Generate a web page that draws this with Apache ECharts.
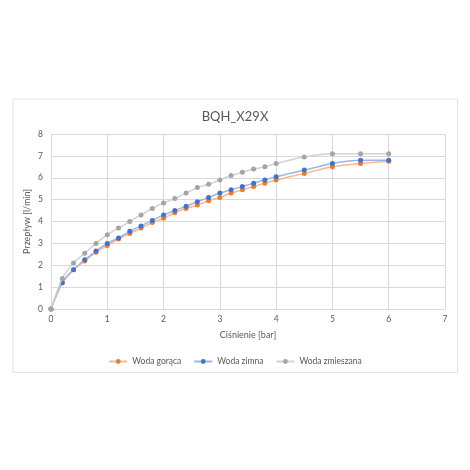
<!DOCTYPE html>
<html>
<head>
<meta charset="utf-8">
<script src="https://cdn.jsdelivr.net/npm/echarts@6/dist/echarts.min.js"></script>
<style>html,body{margin:0;padding:0;background:#fff;}#c{width:470px;height:470px;}</style>
</head>
<body>
<div id="c"></div>
<script>
const pressure = [0, 0.2, 0.4, 0.6, 0.8, 1.0, 1.2, 1.4, 1.6, 1.8, 2.0, 2.2, 2.4, 2.6, 2.8, 3.0, 3.2, 3.4, 3.6, 3.8, 4.0, 4.5, 5.0, 5.5, 6.0];
const hotWater = [0, 1.2, 1.8, 2.2, 2.6, 2.9, 3.2, 3.45, 3.7, 3.95, 4.15, 4.4, 4.6, 4.75, 4.95, 5.1, 5.3, 5.45, 5.6, 5.75, 5.9, 6.2, 6.5, 6.65, 6.75];
const coldWater = [0, 1.2, 1.8, 2.25, 2.65, 3.0, 3.25, 3.55, 3.8, 4.05, 4.3, 4.5, 4.7, 4.9, 5.1, 5.3, 5.45, 5.6, 5.75, 5.9, 6.05, 6.35, 6.65, 6.8, 6.8];
const mixedWater = [0, 1.4, 2.1, 2.55, 3.0, 3.4, 3.7, 4.0, 4.3, 4.6, 4.85, 5.05, 5.3, 5.55, 5.7, 5.9, 6.1, 6.25, 6.4, 6.5, 6.65, 6.95, 7.1, 7.1, 7.1];
const seriesNames = ['Woda gorąca', 'Woda zimna', 'Woda zmieszana'];
const title = 'BQH_X29X';
const xName = 'Ciśnienie [bar]';
const yName = 'Przepływ [l/min]';

const font = 'Lato, "Open Sans", sans-serif';
const markerColors = ['#ED7D31', '#4472C4', '#A5A5A5'];
const lineColors = ['#F6B88E', '#9DB5E3', '#D2D2D2'];
const values = [hotWater, coldWater, mixedWater];

const chart = echarts.init(document.getElementById('c'), null, {renderer: 'canvas'});
chart.setOption({
  animation: false,
  backgroundColor: '#fff',
  graphic: [{
    type: 'rect', left: 12.5, top: 98.5, z: -10,
    shape: {width: 444.5, height: 273.5},
    style: {fill: '#fff', stroke: '#E3E3E3', lineWidth: 1}
  }],
  title: {
    text: title, left: 'center', top: 105,
    textStyle: {fontFamily: font, fontSize: 13, fontWeight: 'normal', color: '#595959'}
  },
  legend: {
    bottom: 99, left: 'center',
    itemWidth: 18, itemHeight: 6, itemGap: 12,
    textStyle: {fontFamily: font, fontSize: 8.5, color: '#595959'},
    data: seriesNames
  },
  grid: {left: 51, right: 25, top: 134, bottom: 161},
  xAxis: {
    type: 'value', min: 0, max: 7, interval: 1,
    name: xName, nameLocation: 'middle', nameGap: 22,
    nameTextStyle: {fontFamily: font, fontSize: 9, color: '#595959'},
    axisLine: {show: true, lineStyle: {color: '#D9D9D9'}},
    axisTick: {show: false},
    axisLabel: {fontFamily: font, fontSize: 8.5, color: '#595959', margin: 6},
    splitLine: {show: true, lineStyle: {color: '#D9D9D9'}}
  },
  yAxis: {
    type: 'value', min: 0, max: 8, interval: 1,
    name: yName, nameLocation: 'middle', nameGap: 19, nameRotate: 90,
    nameMoveOverlap: false,
    nameTextStyle: {fontFamily: font, fontSize: 9, color: '#595959'},
    axisLine: {show: true, lineStyle: {color: '#D9D9D9'}},
    axisTick: {show: false},
    axisLabel: {fontFamily: font, fontSize: 8.5, color: '#595959', margin: 8},
    splitLine: {show: true, lineStyle: {color: '#D9D9D9'}}
  },
  series: seriesNames.map((n, i) => ({
    name: n, type: 'line', smooth: 0.25,
    data: pressure.map((x, k) => [x, values[i][k]]),
    symbol: 'circle', symbolSize: 5,
    itemStyle: {color: markerColors[i]},
    lineStyle: {color: lineColors[i], width: 1.5},
    z: 2 + i
  }))
});
</script>
</body>
</html>
